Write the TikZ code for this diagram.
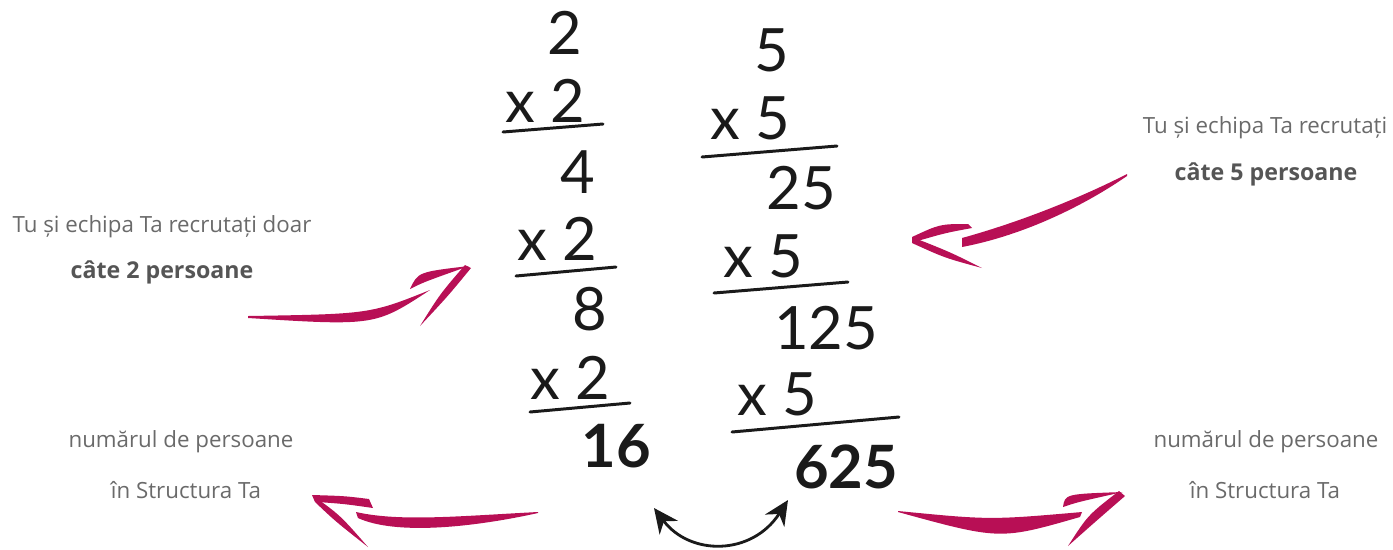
\documentclass[tikz,border=0pt]{standalone}
\usepackage{fontspec}
\setmainfont{Open Sans}
\newfontfamily\handfont{Lato}
\usepackage{tikz}
\usetikzlibrary{arrows.meta}
\definecolor{BrushPink}{HTML}{B80F55}
\definecolor{TextGray}{HTML}{6A6A6A}
\definecolor{BoldGray}{HTML}{555555}
\definecolor{InkBlack}{HTML}{1A1A1A}

\begin{document}
\begin{tikzpicture}[x=0.02cm, y=-0.02cm,
        note/.style={text=TextGray, font=\fontsize{12.7}{14}\selectfont, inner sep=0pt},
        notebold/.style={text=BoldGray, font=\fontsize{13.2}{15}\selectfont\bfseries, inner sep=0pt},
        digit/.style={text=InkBlack, font=\handfont\fontsize{34}{36}\selectfont, inner sep=0pt},
        result/.style={text=InkBlack, font=\handfont\fontsize{34}{36}\selectfont\bfseries, inner sep=0pt},
        rule/.style={draw=InkBlack, line width=1.7pt, line cap=round},
        brush/.style={fill=BrushPink}]

        \useasboundingbox (0,0) rectangle (1393,549);

        % Side notes
        \node[note]     (leftA)  at (162,227)  {Tu și echipa Ta recrutați doar};
        \node[notebold] (leftB)  at (162,272)  {câte 2 persoane};
        \node[note]     (rightA) at (1265,128) {Tu și echipa Ta recrutați};
        \node[notebold] (rightB) at (1266,174) {câte 5 persoane};
        \node[note]     (sumLA)  at (181,442)  {numărul de persoane};
        \node[note]     (sumLB)  at (186,490)  {în Structura Ta};
        \node[note]     (sumRA)  at (1266,442) {numărul de persoane};
        \node[note]     (sumRB)  at (1265,490) {în Structura Ta};

        % Column of twos
        \node[digit]  (two0)  at (565,33)  {2};
        \node[digit]  (mulA1) at (545,101) {x 2};
        \node[digit]  (two1)  at (578,172) {4};
        \node[digit]  (mulA2) at (557,239) {x 2};
        \node[digit]  (two2)  at (590,309) {8};
        \node[digit]  (mulA3) at (570,378) {x 2};
        \node[result] (n16)   at (616,446) {16};
        \draw[rule] (503,132) -- (603,124);
        \draw[rule] (516,276) -- (616,267);
        \draw[rule] (530,412) -- (630,403);

        % Column of fives
        \node[digit]  (five0) at (772,50)  {5};
        \node[digit]  (mulB1) at (750,118) {x 5};
        \node[digit]  (five1) at (801,188) {25};
        \node[digit]  (mulB2) at (763,256) {x 5};
        \node[digit]  (five2) at (826,328) {125};
        \node[digit]  (mulB3) at (777,394) {x 5};
        \node[result] (n625)  at (846,467) {625};
        \draw[rule] (702,157) -- (837,146);
        \draw[rule] (714,293) -- (848,282);
        \draw[rule] (732,432) -- (899,417);

        % Compare the two results
        \coordinate (tip16)  at (654,508);
        \coordinate (tip625) at (788,500);
        \draw[InkBlack, line width=1.6pt, {Stealth[length=14pt, width=13pt]}-{Stealth[length=14pt, width=13pt]}]
            (tip16) .. controls (690,556) and (752,556) .. (tip625);

        % Brush arrow: left note -> x 2
        \fill[brush] (248,316) .. controls (370,314) .. (430,290)
                     .. controls (375,326) .. (248,318) -- cycle;
        \fill[brush] (410,289) .. controls (418,272) .. (469,266)
                     .. controls (424,282) .. (410,289) -- cycle;
        \fill[brush] (465,265) -- (471,268) .. controls (448,296) .. (420,326)
                     .. controls (440,294) .. (465,265) -- cycle;

        % Brush arrow: right note -> 25
        \fill[brush] (1127,174) .. controls (1080,198) and (1020,222) .. (962,238)
                     -- (962,247) .. controls (1025,235) and (1085,205) .. (1127,176) -- cycle;
        \fill[brush] (912,237) .. controls (940,224) .. (968,224)
                     -- (972,228) .. controls (945,233) .. (914,242) -- cycle;
        \fill[brush] (912,237) .. controls (950,252) .. (982,268)
                     .. controls (945,258) .. (912,243) -- cycle;

        % Brush arrow: 16 -> left sum
        \fill[brush] (538,512) .. controls (460,516) and (400,522) .. (356,512)
                     -- (358,518) .. controls (395,535) and (470,528) .. (538,513) -- cycle;
        \fill[brush] (312,495) .. controls (345,496) .. (369,499)
                     -- (373,508) .. controls (345,504) .. (318,502) -- cycle;
        \fill[brush] (312,495) .. controls (340,515) .. (368,547)
                     .. controls (335,521) .. (315,502) -- cycle;

        % Brush arrow: 625 -> right sum
        \fill[brush] (898,511) .. controls (990,520) .. (1082,512)
                     -- (1080,517) .. controls (1000,540) .. (898,512) -- cycle;
        \fill[brush] (1063,507) .. controls (1065,494) .. (1123,492)
                     .. controls (1078,502) .. (1063,507) -- cycle;
        \fill[brush] (1119,491) -- (1125,496) .. controls (1095,522) .. (1068,546)
                     .. controls (1088,515) .. (1119,491) -- cycle;
      \end{tikzpicture}
\end{document}
